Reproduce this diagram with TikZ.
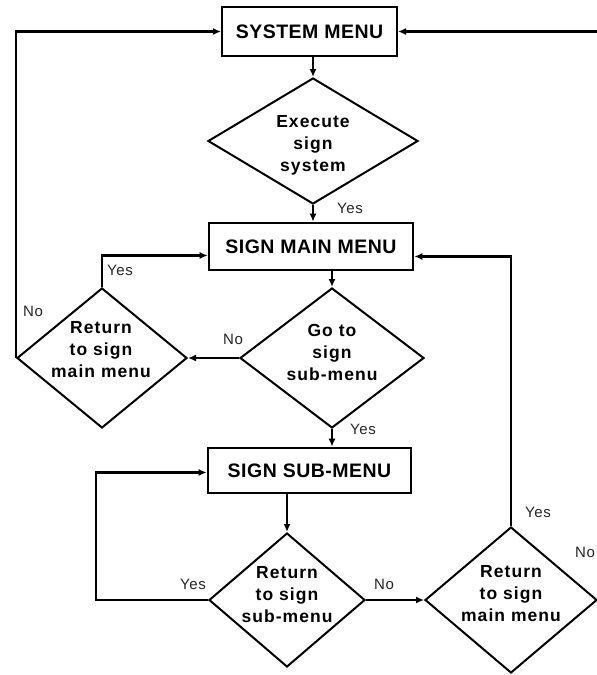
\documentclass[tikz,border=0pt]{standalone}
\usepackage{fontspec}
\setmainfont{Liberation Sans}
\newfontfamily\boxfont[LetterSpace=2.5]{Liberation Sans}
\newfontfamily\diafont[LetterSpace=6]{Liberation Sans}
\newfontfamily\lblfont[LetterSpace=4]{Liberation Sans}
\usetikzlibrary{arrows.meta,shapes.geometric}
\begin{document}
\begin{tikzpicture}[x=1pt,y=-1pt,
  menubox/.style={draw, line width=2.6pt, inner sep=0pt, font=\boxfont\bfseries\fontsize{19.5}{23}\selectfont},
  decision/.style={draw, diamond, line width=2pt, inner sep=0pt},
  dtext/.style={font=\diafont\bfseries\fontsize{17.5}{22}\selectfont, align=center, inner sep=0pt},
  lbl/.style={font=\lblfont\fontsize{15}{17}\selectfont, inner sep=0pt, text=black!85},
  conn/.style={line width=2.2pt},
  arr/.style={conn, -{Latex[length=8pt,width=7pt]}}]
\useasboundingbox (0,0) rectangle (597,675);
\clip (0,0) rectangle (597,675);
\fill[white] (0,0) rectangle (597,675);

% boxes
\node[menubox, line width=2pt, minimum width=175pt, minimum height=49pt] (sys) at (309.5,31.5) {SYSTEM MENU};
\node[menubox, minimum width=204pt, minimum height=47pt] (smm) at (311,246.5) {SIGN MAIN MENU};
\node[menubox, minimum width=203pt, minimum height=45pt] (ssm) at (309.5,470.5) {SIGN SUB-MENU};

% decisions
\node[decision, minimum width=210pt, minimum height=126pt] (d1) at (313,141) {};
\node[dtext] (d1t) at (313,145) {Execute\\sign\\system};
\node[decision, minimum width=184pt, minimum height=140pt] (d2) at (332,358) {};
\node[dtext] (d2t) at (332,352) {Go to\\sign\\sub-menu};
\node[decision, minimum width=170pt, minimum height=140pt] (d3) at (102,358) {};
\node[dtext] (d3t) at (101,350) {Return\\to sign\\main menu};
\node[decision, minimum width=156pt, minimum height=134pt] (d4) at (287,600) {};
\node[dtext] (d4t) at (287,595) {Return\\to sign\\sub-menu};
\node[decision, minimum width=172pt, minimum height=146pt] (d5) at (511,600) {};
\node[dtext] (d5t) at (511,594) {Return\\to sign\\main menu};

\coordinate (offr) at (610,31.5);

% connectors
\draw[arr] (d1.north |- sys.south) -- (d1.north);
\draw[arr] (d1.south) -- (d1.south |- smm.north);
\draw[arr] (d2.north |- smm.south) -- (d2.north);
\draw[arr] (d2.south) -- (d2.south |- ssm.north);
\draw[arr] (d4.north |- ssm.south) -- (d4.north);
\draw[arr] (d2.west) -- (d3.east);
\draw[arr] (d3.north) |- ([yshift=-9pt]smm.west);
\draw[arr] (d3.west) |- (sys.west);
\draw[arr] (d4.west) -- ++(-112,0) |- ([yshift=-2pt]ssm.west);
\draw[arr] (d4.east) -- (d5.west);
\draw[arr] (d5.north) |- ([yshift=-10pt]smm.east);
\draw[arr] (d5.east) -| (offr) -- (sys.east);

% labels
\node[lbl] (y1) at (350,208) {Yes};
\node[lbl] (y2) at (120,270) {Yes};
\node[lbl] (n1) at (33,311) {No};
\node[lbl] (n2) at (233,339) {No};
\node[lbl] (y3) at (363,429) {Yes};
\node[lbl] (y4) at (193,584) {Yes};
\node[lbl] (n3) at (384,584) {No};
\node[lbl] (y5) at (538,512) {Yes};
\node[lbl] (n4) at (585,552) {No};
\end{tikzpicture}
\end{document}
